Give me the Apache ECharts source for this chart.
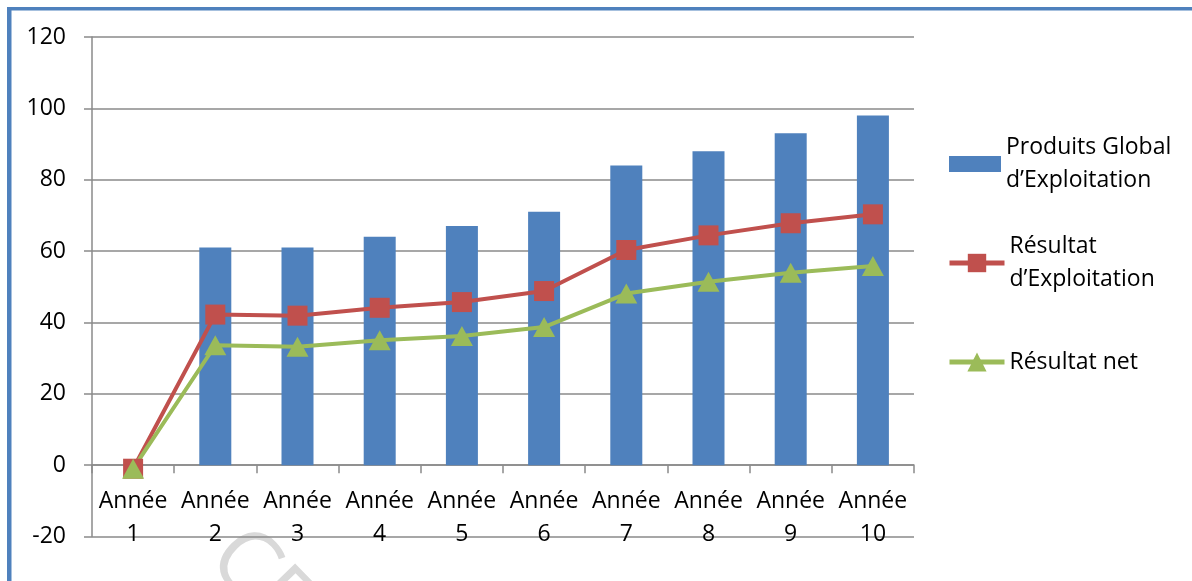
<!DOCTYPE html>
<html>
<head>
<meta charset="utf-8">
<title>Produits et résultats</title>
<script src="https://cdn.jsdelivr.net/npm/echarts@6/dist/echarts.min.js"></script>
<style>
  html, body { margin: 0; padding: 0; background: #fff; }
  #chart { width: 1192px; height: 581px; }
</style>
</head>
<body>
<div id="chart"></div>
<script>
// Years on the category axis
const years = ['Année 1', 'Année 2', 'Année 3', 'Année 4', 'Année 5',
               'Année 6', 'Année 7', 'Année 8', 'Année 9', 'Année 10'];

// Series names
const nameProduits = 'Produits Global d’Exploitation';
const nameResExpl = 'Résultat d’Exploitation';
const nameResNet = 'Résultat net';

// Series values
const produitsGlobal = [0, 61, 61, 64, 67, 71, 84, 88, 93, 98];
const resultatExploitation = [-1, 42.2, 41.9, 44.1, 45.7, 48.8, 60.3, 64.4, 67.8, 70.3];
const resultatNet = [-1, 33.6, 33.2, 35.0, 36.2, 38.7, 48.1, 51.4, 53.9, 55.8];

// Value axis range
const yMin = -20, yMax = 120, yStep = 20;

const FONT = '"Open Sans", "Noto Sans", sans-serif';
const BLUE = '#4F81BD', RED = '#C0504D', GREEN = '#9BBB59', GRID = '#8a8a8a';

const GRID_TOP = 37, GRID_BOTTOM = 44.5;
const plotHeight = 581 - GRID_TOP - GRID_BOTTOM;
// the category axis sits on the zero line: shift it up from the bottom edge
const zeroOffset = -plotHeight * (0 - yMin) / (yMax - yMin);

const legendText = {
  color: '#000', fontFamily: FONT, fontSize: 23, lineHeight: 33
};

const chart = echarts.init(document.getElementById('chart'), null, { renderer: 'canvas' });
chart.setOption({
  animation: false,
  backgroundColor: '#fff',
  textStyle: { fontFamily: FONT },
  grid: { left: 92, right: 278, top: GRID_TOP, bottom: GRID_BOTTOM, containLabel: false, outerBoundsMode: 'none' },
  xAxis: {
    type: 'category',
    data: years,
    position: 'bottom',
    offset: zeroOffset,
    boundaryGap: true,
    axisLine: { show: true, onZero: false, lineStyle: { color: GRID, width: 1.5 } },
    axisTick: { show: true, length: 8, lineStyle: { color: GRID, width: 1.5 } },
    axisLabel: {
      interval: 0, margin: 20, color: '#000', fontFamily: FONT, fontSize: 23, lineHeight: 33,
      formatter: v => v.replace(' ', '\n')
    },
    splitLine: { show: false }
  },
  yAxis: {
    type: 'value',
    min: yMin, max: yMax, interval: yStep,
    axisLine: { show: true, lineStyle: { color: GRID, width: 1.5 } },
    axisTick: { show: true, length: 8, lineStyle: { color: GRID, width: 1.5 } },
    axisLabel: { margin: 26, color: '#000', fontFamily: FONT, fontSize: 23 },
    splitLine: { show: true, lineStyle: { color: GRID, width: 1.5 } }
  },
  legend: [
    {
      data: [nameProduits], orient: 'vertical', left: 949, top: 114.5, padding: 0,
      icon: 'rect', itemWidth: 52, itemHeight: 16, selectedMode: false,
      formatter: () => 'Produits Global\nd’Exploitation',
      textStyle: Object.assign({ padding: [33, 0, 0, 0] }, legendText)
    },
    {
      data: [nameResExpl], orient: 'vertical', left: 947, top: 213.5, padding: 0,
      itemWidth: 55, itemHeight: 23, selectedMode: false,
      lineStyle: { width: 5 },
      formatter: () => 'Résultat\nd’Exploitation',
      textStyle: Object.assign({ padding: [33, 0, 0, 0] }, legendText)
    },
    {
      data: [nameResNet], orient: 'vertical', left: 947, top: 345.5, padding: 0,
      itemWidth: 55, itemHeight: 24, selectedMode: false,
      lineStyle: { width: 5 },
      textStyle: legendText
    }
  ],
  graphic: [
    // frame rules along the top and left edges
    { type: 'rect', shape: { x: 7, y: 7, width: 1185, height: 3.5 }, style: { fill: BLUE }, z: 100 },
    { type: 'rect', shape: { x: 7, y: 7, width: 4.5, height: 574 }, style: { fill: BLUE }, z: 100 },
    // faint stamp at the bottom
    {
      type: 'text', x: 255, y: 513, rotation: -0.8, z: -10,
      style: { text: 'CE', fill: '#d9d9d9', font: '88px "Open Sans", sans-serif' }
    }
  ],
  series: [
    {
      name: nameProduits, type: 'bar', data: produitsGlobal, barWidth: 32,
      itemStyle: { color: BLUE }
    },
    {
      name: nameResExpl, type: 'line', data: resultatExploitation,
      symbol: 'rect', symbolSize: 20, showAllSymbol: true,
      lineStyle: { color: RED, width: 4 }, itemStyle: { color: RED }
    },
    {
      name: nameResNet, type: 'line', data: resultatNet,
      symbol: 'triangle', symbolSize: [22, 20], showAllSymbol: true,
      lineStyle: { color: GREEN, width: 4 }, itemStyle: { color: GREEN }
    }
  ]
});
</script>
</body>
</html>
